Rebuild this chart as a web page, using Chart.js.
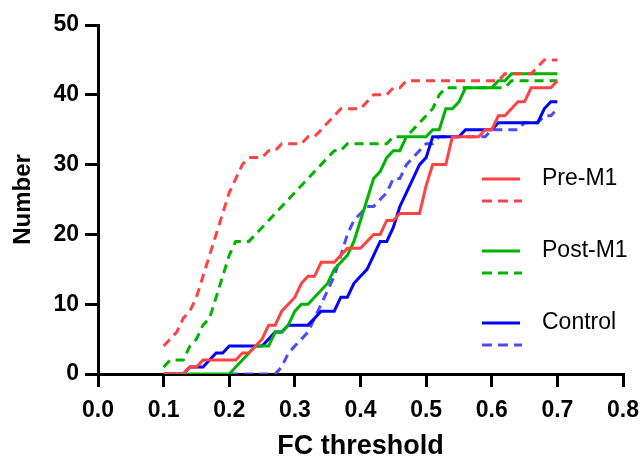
<!DOCTYPE html>
<html>
<head>
<meta charset="utf-8">
<script src="https://cdn.jsdelivr.net/npm/chart.js@4.4.1/dist/chart.umd.min.js"></script>
<style>
  html, body { margin: 0; padding: 0; background: #fff; }
  #wrap { width: 642px; height: 463px; }
</style>
</head>
<body>
<div id="wrap"><canvas id="myChart0" width="642" height="463"></canvas></div>
<script>
// FC thresholds (x)
const thresholds = [0.10,0.11,0.12,0.13,0.14,0.15,0.16,0.17,0.18,0.19,
  0.20,0.21,0.22,0.23,0.24,0.25,0.26,0.27,0.28,0.29,
  0.30,0.31,0.32,0.33,0.34,0.35,0.36,0.37,0.38,0.39,
  0.40,0.41,0.42,0.43,0.44,0.45,0.46,0.47,0.48,0.49,
  0.50,0.51,0.52,0.53,0.54,0.55,0.56,0.57,0.58,0.59,
  0.60,0.61,0.62,0.63,0.64,0.65,0.66,0.67,0.68,0.69,
  0.70];

const preSolid = [0,0,0,0,1,1,2,2,2,2,
  2,2,3,3,4,5,7,7,9,10,
  11,13,14,14,16,16,16,17,18,18,
  18,19,20,20,22,22,23,23,23,23,
  27,30,30,30,34,34,34,34,34,35,
  35,37,37,38,39,39,41,41,41,41,
  42];
const preDashed = [4,5,6,8,9,11,14,17,20,23,
  26,28,30,31,31,31,32,32,33,33,
  33,33,34,34,35,36,37,38,38,38,
  38,39,40,40,40,41,41,42,42,42,
  42,42,42,42,42,42,42,42,42,42,
  42,42,43,43,43,43,43,44,45,45,
  45];
const postSolid = [0,0,0,0,0,0,0,0,0,0,
  0,1,2,3,4,4,4,6,6,7,
  9,10,10,11,12,13,15,16,17,19,
  22,25,28,29,31,32,32,34,34,34,
  34,35,35,38,38,39,41,41,41,41,
  41,42,42,43,43,43,43,43,43,43,
  43];
const postDashed = [1,2,2,2,4,5,7,8,11,14,
  17,19,19,19,20,21,22,23,24,25,
  26,27,28,29,30,31,32,32,33,33,
  33,33,33,33,33,34,34,34,35,36,
  37,38,40,41,41,41,41,41,41,41,
  41,41,41,42,42,42,42,42,42,42,
  42];
const controlSolid = [0,0,0,0,1,1,1,2,3,3,
  4,4,4,4,4,4,5,6,6,7,
  7,7,7,8,9,9,9,11,11,13,
  14,15,17,19,19,21,24,26,28,30,
  31,34,34,34,34,34,35,35,35,35,
  35,36,36,36,36,36,36,36,38,39,
  39];
const controlDashed = [null,null,null,null,null,null,null,null,null,null,
  0,0,0,0,0,0,0,0,1,3,
  4,5,6,8,10,12,14,17,20,22,
  23,24,24,25,26,28,28,30,31,32,
  33,33,34,34,34,34,34,34,34,34,
  35,35,35,35,35,36,36,36,37,37,
  38];

const xTicks = [0.0,0.1,0.2,0.3,0.4,0.5,0.6,0.7,0.8];
const yTicks = [0,10,20,30,40,50];

const RED = '#FF4343';
const GREEN = '#00B300';
const BLUE = '#0000FF';
const BLUE_D = '#4B4BFF';

const pts = arr => thresholds.map((x, i) => ({x: x, y: arr[i]}));

function line(label, arr, color, dashed) {
  return {
    label: label,
    data: pts(arr),
    borderColor: color,
    backgroundColor: color,
    borderWidth: 3,
    borderDash: dashed ? [9, 6] : [],
    pointRadius: 0,
    tension: 0,
    fill: false
  };
}

// legend drawn by hand: solid + dashed sample, label on the solid one
const legendItems = [
  {label: 'Pre-M1', color: RED, dashColor: RED},
  {label: 'Post-M1', color: GREEN, dashColor: GREEN},
  {label: 'Control', color: BLUE, dashColor: BLUE_D}
];

const handLegend = {
  id: 'handLegend',
  afterDatasetsDraw(chart) {
    const c = chart.ctx;
    const a = chart.chartArea;
    const x0 = a.left + 384, x1 = x0 + 38;
    c.save();
    c.lineWidth = 3;
    c.font = '23px "Liberation Sans", Arial, sans-serif';
    c.textBaseline = 'middle';
    c.fillStyle = '#000';
    legendItems.forEach((it, i) => {
      const y = a.top + 154 + i * 72;
      c.strokeStyle = it.color;
      c.setLineDash([]);
      c.beginPath(); c.moveTo(x0, y); c.lineTo(x1, y); c.stroke();
      c.strokeStyle = it.dashColor;
      c.setLineDash([10, 6]);
      c.beginPath(); c.moveTo(x0, y + 22); c.lineTo(x1 + 2, y + 22); c.stroke();
      c.fillText(it.label, x1 + 22, y);
    });
    c.restore();
  }
};

const ctx = document.getElementById('myChart0');

new Chart(ctx, {
  type: 'line',
  data: {
    datasets: [
      line('Pre-M1', preSolid, RED, false),
      line('Pre-M1 dashed', preDashed, RED, true),
      line('Post-M1', postSolid, GREEN, false),
      line('Post-M1 dashed', postDashed, GREEN, true),
      line('Control', controlSolid, BLUE, false),
      line('Control dashed', controlDashed, BLUE_D, true)
    ]
  },
  options: {
    responsive: false,
    animation: false,
    layout: { padding: { top: 25, right: 19, left: 0, bottom: 0 } },
    plugins: { legend: { display: false }, tooltip: { enabled: false } },
    scales: {
      x: {
        type: 'linear',
        min: 0, max: 0.8,
        afterBuildTicks: s => { s.ticks = xTicks.map(v => ({value: v})); },
        afterFit: s => { s.height = 89; s.paddingRight = 0; s.paddingLeft = 0; },
        border: { color: '#000', width: 3 },
        grid: { drawOnChartArea: false, drawTicks: true, tickLength: 13, tickColor: '#000', lineWidth: 3 },
        ticks: {
          color: '#000', padding: 10,
          font: { family: '"Liberation Sans", Arial, sans-serif', size: 23, weight: 'bold' },
          callback: v => v.toFixed(1)
        },
        title: {
          display: true, text: 'FC threshold', color: '#000',
          font: { family: '"Liberation Sans", Arial, sans-serif', size: 27, weight: 'bold' },
          padding: { top: 0, bottom: 0 }
        }
      },
      y: {
        type: 'linear',
        min: 0, max: 50,
        afterBuildTicks: s => { s.ticks = yTicks.map(v => ({value: v})); },
        afterFit: s => { s.width = 98; },
        border: { color: '#000', width: 3 },
        grid: { drawOnChartArea: false, drawTicks: true, tickLength: 13, tickColor: '#000', lineWidth: 3 },
        ticks: {
          color: '#000', padding: 6,
          font: { family: '"Liberation Sans", Arial, sans-serif', size: 23, weight: 'bold' }
        },
        title: {
          display: true, text: 'Number', color: '#000',
          font: { family: '"Liberation Sans", Arial, sans-serif', size: 24, weight: 'bold' },
          padding: { top: 9, bottom: 0 }
        }
      }
    }
  },
  plugins: [handLegend]
});
</script>
</body>
</html>
